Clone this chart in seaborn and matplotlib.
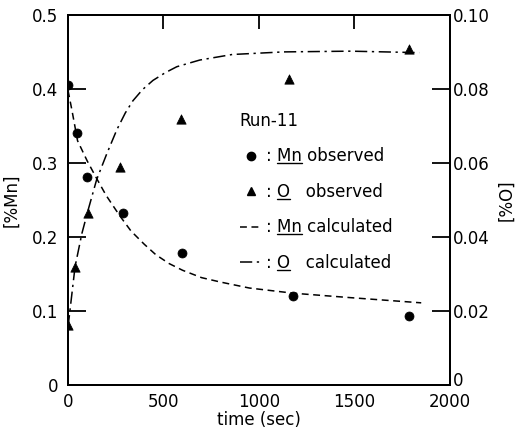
import matplotlib
matplotlib.use("Agg")
import matplotlib.pyplot as plt
from matplotlib.lines import Line2D
from matplotlib.transforms import IdentityTransform, ScaledTranslation
import seaborn as sns

# observed points
t_mn_obs = [0, 45, 98, 289, 597, 1178, 1786]
mn_obs = [0.405, 0.34, 0.281, 0.232, 0.178, 0.12, 0.093]
t_o_obs = [0, 37, 106, 272, 590, 1159, 1787]
o_obs = [0.0162, 0.032, 0.0466, 0.059, 0.0718, 0.0827, 0.0907]

# calculated curves
t_mn_calc = [0, 20, 50, 100, 150, 200, 270, 330, 400, 460, 530, 600, 700, 800, 950,
             1180, 1480, 1850]
mn_calc = [0.398, 0.372, 0.33, 0.303, 0.279, 0.256, 0.229, 0.208, 0.19, 0.176, 0.164,
           0.155, 0.145, 0.139, 0.131, 0.124, 0.118, 0.111]
t_o_calc = [0, 37, 73, 106, 150, 204, 256, 300, 340, 390, 445, 510, 570, 690, 860,
            1130, 1480, 1840]
o_calc = [0.0156, 0.032, 0.041, 0.0474, 0.0555, 0.0626, 0.069, 0.0735, 0.0768, 0.0798,
          0.0823, 0.0844, 0.086, 0.0878, 0.0893, 0.0900, 0.0902, 0.0898]

x_ticks = [0, 500, 1000, 1500, 2000]
mn_ticks = [0, 0.1, 0.2, 0.3, 0.4, 0.5]
mn_labels = ['0', '0.1', '0.2', '0.3', '0.4', '0.5']
o_ticks = [0, 0.02, 0.04, 0.06, 0.08, 0.10]
o_labels = ['0', '0.02', '0.04', '0.06', '0.08', '0.10']

legend_species = ['Mn', 'O', 'Mn', 'O']
legend_labels = [': Mn observed', ': O   observed', ': Mn calculated', ': O   calculated']

sns.set_style('white')
plt.rcParams['font.family'] = ['DejaVu Sans']
plt.rcParams['font.size'] = 12
plt.rcParams['text.color'] = 'black'
plt.rcParams['axes.labelcolor'] = 'black'
plt.rcParams['xtick.color'] = 'black'
plt.rcParams['ytick.color'] = 'black'

fig = plt.figure(figsize=(5.16, 4.38), dpi=100)
ax = fig.add_axes([0.1318, 0.121, 0.740, 0.845])
ax2 = ax.twinx()

dash = (0, (4.5, 3))
dashdot = (0, (8, 3, 1.5, 3))

sns.scatterplot(x=t_mn_obs, y=mn_obs, ax=ax, marker='o', s=42, color='black',
                edgecolor='black', zorder=3)
sns.lineplot(x=t_mn_calc, y=mn_calc, ax=ax, color='black', lw=1.1, linestyle=dash)
sns.scatterplot(x=t_o_obs, y=o_obs, ax=ax2, marker='^', s=45, color='black',
                edgecolor='black', zorder=3)
sns.lineplot(x=t_o_calc, y=o_calc, ax=ax2, color='black', lw=1.1, linestyle=dashdot)

ax.set_xlim(0, 2000)
ax.set_ylim(0, 0.5)
ax2.set_ylim(0, 0.1)
ax.set_xticks(x_ticks)
ax.set_xticklabels([str(v) for v in x_ticks])
ax.set_yticks(mn_ticks)
ax.set_yticklabels(mn_labels)
ax2.set_yticks(o_ticks)
ax2.set_yticklabels(o_labels)

ax.tick_params(axis='x', direction='in', length=10, width=1.3, top=True, pad=6,
               labelsize=12)
ax.tick_params(axis='y', direction='in', length=13, width=1.3, left=True, right=False,
               pad=7, labelsize=12)
ax2.tick_params(axis='y', direction='in', length=13, width=1.3, right=True, pad=2,
                labelsize=12)

# the right-hand "0" sits a little higher, as in the original
zero_lab = ax2.get_yticklabels()[0]
zero_lab.set_transform(zero_lab.get_transform() + ScaledTranslation(0, 4 / 72, fig.dpi_scale_trans))

for a in (ax, ax2):
    for sp in a.spines.values():
        sp.set_linewidth(1.4)
        sp.set_color('black')

ax.set_xlabel('time (sec)', labelpad=0)
ax.set_ylabel('[%Mn]', labelpad=8)
ax2.set_ylabel('[%O]', rotation=90, labelpad=6)

handles = [
    Line2D([], [], marker='o', ls='none', color='black', markersize=6),
    Line2D([], [], marker='^', ls='none', color='black', markersize=6),
    Line2D([], [], ls=dash, color='black', lw=1.1),
    Line2D([], [], ls=dashdot, color='black', lw=1.1),
]
leg = ax2.legend(handles, legend_labels, title='Run-11', loc='upper left',
                 bbox_to_anchor=(0.45, 0.738), frameon=False, borderpad=0,
                 borderaxespad=0, handlelength=1.3, handletextpad=0.25,
                 labelspacing=1.05, alignment='left', fontsize=12,
                 title_fontsize=12)

# underline the species names in the legend
fig.canvas.draw()
renderer = fig.canvas.get_renderer()
for txt, word in zip(leg.get_texts(), legend_species):
    prop = txt.get_fontproperties()
    bb = txt.get_window_extent(renderer)
    w_pre, _, _ = renderer.get_text_width_height_descent(': ', prop, ismath=False)
    w_word, _, _ = renderer.get_text_width_height_descent(word, prop, ismath=False)
    _, _, desc = renderer.get_text_width_height_descent('lp', prop, ismath=False)
    y = bb.y0 + desc - 2
    fig.add_artist(Line2D([bb.x0 + w_pre, bb.x0 + w_pre + w_word], [y, y],
                          transform=IdentityTransform(), color='black', lw=1.0))

fig.savefig('out.png', dpi=100, facecolor='white')
